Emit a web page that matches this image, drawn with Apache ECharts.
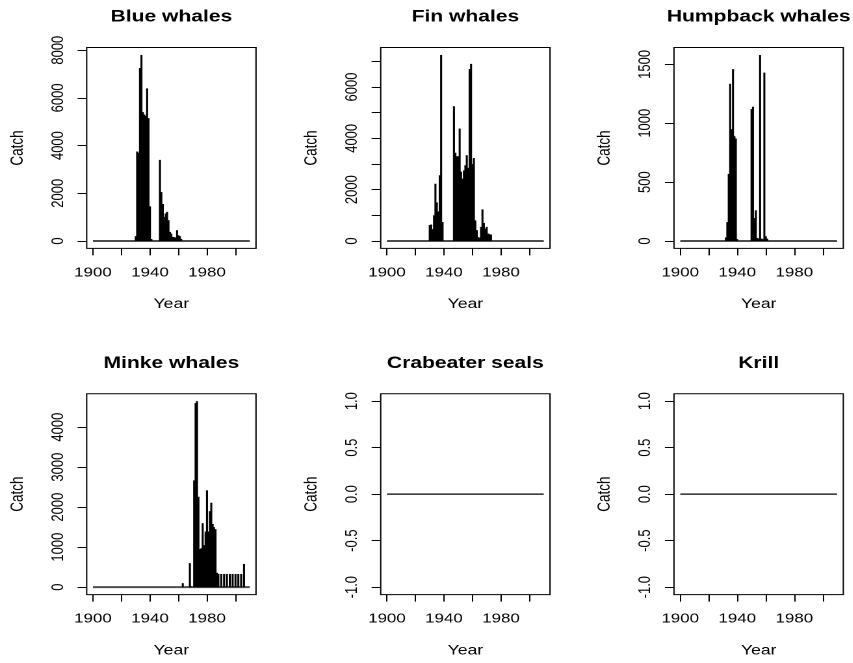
<!DOCTYPE html>
<html>
<head>
<meta charset="utf-8">
<script src="https://cdn.jsdelivr.net/npm/echarts@6/dist/echarts.min.js"></script>
<style>
    html, body { margin: 0; padding: 0; background: #fff; overflow: hidden; }
    /* the reference is stretched sideways, so the chart is drawn narrow and scaled */
    #chart { width: 656px; height: 663px; transform: scaleX(1.3); transform-origin: 0 0; }
</style>
</head>
<body>
<div id="chart"></div>
<script>
// ---- data ----
const blueYears = [1930, 1931, 1932, 1933, 1934, 1935, 1936, 1937, 1938, 1939, 1940, 1941,
    1942, 1943, 1944, 1945, 1946, 1947, 1948, 1949, 1950, 1951, 1952, 1953, 1954, 1955,
    1956, 1957, 1958, 1959, 1960, 1961, 1962];
const blueCatch = [200, 3750, 3700, 7250, 7800, 5400, 5300, 5250, 6400, 5150, 1450, 80,
    0, 0, 0, 0, 0, 3400, 2050, 1550, 1000, 1150, 1220, 870, 380, 310,
    170, 160, 140, 450, 240, 200, 80];

const finYears = [1930, 1931, 1932, 1933, 1934, 1935, 1936, 1937, 1938, 1939,
    1940, 1941, 1942, 1943, 1944, 1945, 1946,
    1947, 1948, 1949, 1950, 1951, 1952, 1953, 1954, 1955, 1956, 1957, 1958, 1959, 1960,
    1961, 1962, 1963, 1964, 1965, 1966, 1967, 1968, 1969, 1970, 1971, 1972, 1973];
const finCatch = [620, 640, 460, 1000, 2230, 1500, 1150, 2560, 7250, 740,
    0, 0, 0, 0, 0, 0, 0,
    5250, 3440, 3300, 3300, 4380, 2700, 2430, 2750, 2950, 3340, 2850, 6700, 6900, 3000,
    3230, 800, 420, 150, 130, 550, 1230, 700, 480, 550, 290, 260, 250];

const humpYears = [1932, 1933, 1934, 1935, 1936, 1937, 1938, 1939, 1940,
    1941, 1942, 1943, 1944, 1945, 1946, 1947, 1948, 1949,
    1950, 1951, 1952, 1953, 1954, 1955, 1956, 1957, 1958, 1959, 1960, 1961];
const humpCatch = [30, 160, 570, 1335, 950, 1460, 890, 870, 15,
    0, 0, 0, 0, 0, 0, 0, 0, 0,
    1120, 1140, 195, 260, 25, 20, 1580, 20, 15, 1430, 40, 20];

const minkeYears = [1963, 1964, 1965, 1966, 1967, 1968, 1969, 1970,
    1971, 1972, 1973, 1974, 1975, 1976, 1977, 1978, 1979, 1980, 1981, 1982, 1983,
    1984, 1985, 1986, 1987, 1988, 1989, 1990, 1991, 1992, 1993, 1994, 1995, 1996,
    1997, 1998, 1999, 2000, 2001, 2002, 2003, 2004, 2005, 2006];
const minkeCatch = [100, 0, 0, 0, 0, 600, 20, 0,
    2670, 4600, 4650, 2260, 950, 970, 1600, 1050, 1390, 2420, 1390, 1900, 2110,
    1580, 1500, 1450, 360, 330, 0, 330, 0, 330, 0, 330, 0, 330,
    0, 330, 0, 330, 0, 330, 0, 330, 0, 580];

// crabeater seals and krill: no catch over the whole period
const spanYears = [1900, 2010];
const zeroCatch = [0, 0];

const yearTicks = [1900, 1920, 1940, 1960, 1980, 2000];
const yearLabels = [1900, 1940, 1980];
const blueTicks = [0, 2000, 4000, 6000, 8000];
const finTicks = [0, 1000, 2000, 3000, 4000, 5000, 6000, 7000];
const finLabels = [0, 2000, 4000, 6000];
const humpTicks = [0, 500, 1000, 1500];
const minkeTicks = [0, 1000, 2000, 3000, 4000];
const zeroTicks = [-1, -0.5, 0, 0.5, 1];

// ---- layout (in picture pixels, x divided by K for the narrow chart) ----
const K = 1.3;
const FONT = 'Liberation Sans, Arial, sans-serif';
const BOX_W = 169.3, BOX_H = 200.9;

const panels = [
    {title: 'Blue whales', years: blueYears, catches: blueCatch, ticks: blueTicks, labels: blueTicks, left: 86.7, top: 47.5},
    {title: 'Fin whales', years: finYears, catches: finCatch, ticks: finTicks, labels: finLabels, left: 380.7, top: 47.5},
    {title: 'Humpback whales', years: humpYears, catches: humpCatch, ticks: humpTicks, labels: humpTicks, left: 674, top: 47.5},
    {title: 'Minke whales', years: minkeYears, catches: minkeCatch, ticks: minkeTicks, labels: minkeTicks, left: 86.7, top: 393.7},
    {title: 'Crabeater seals', years: null, catches: null, ticks: zeroTicks, labels: zeroTicks, left: 380.7, top: 393.7},
    {title: 'Krill', years: null, catches: null, ticks: zeroTicks, labels: zeroTicks, left: 674, top: 393.7}
];

const xMin = 1900 - 0.04 * 110;
const xMax = 2010 + 0.04 * 110;

const textStyle = {fontFamily: FONT, color: '#000'};

let grids = [], xAxes = [], yAxes = [], series = [], titles = [];

panels.forEach((p, i) => {
    let lo = p.catches ? 0 : -1;
    let hi = p.catches ? Math.max(...p.catches) : 1;
    let pad = 0.04 * (hi - lo);
    let fmt = p.catches ? (v => String(v)) : (v => v.toFixed(1));

    grids.push({
        left: p.left / K, top: p.top, width: BOX_W / K, height: BOX_H,
        show: true, borderColor: '#000', borderWidth: 1,
        containLabel: false, outerBoundsMode: 'none'
    });

    xAxes.push({
        gridIndex: i, type: 'value', min: xMin, max: xMax,
        axisLine: {show: false, onZero: false},
        axisTick: {show: true, length: 7, lineStyle: {color: '#000', width: 1}, customValues: yearTicks},
        axisLabel: Object.assign({customValues: yearLabels, formatter: v => String(v), margin: 18, fontSize: 13}, textStyle),
        splitLine: {show: false},
        name: 'Year', nameLocation: 'middle', nameGap: 49,
        nameTextStyle: Object.assign({fontSize: 13.5}, textStyle)
    });

    yAxes.push({
        gridIndex: i, type: 'value', min: lo - pad, max: hi + pad,
        axisLine: {show: false, onZero: false},
        axisTick: {show: true, length: 7, lineStyle: {color: '#000', width: 1}, customValues: p.ticks},
        axisLabel: Object.assign({customValues: p.labels, formatter: fmt, rotate: 90, margin: 15.5, fontSize: 13}, textStyle),
        splitLine: {show: false},
        name: 'Catch', nameLocation: 'middle', nameGap: 46, nameRotate: 90,
        nameTextStyle: Object.assign({fontSize: 13.5}, textStyle)
    });

    series.push({
        type: 'line', xAxisIndex: i, yAxisIndex: i, silent: true, z: 1,
        data: spanYears.map((y, j) => [y, zeroCatch[j]]),
        symbol: 'none',
        lineStyle: {color: p.catches ? '#4d4d4d' : '#000', width: p.catches ? 2 : 1.3}
    });

    if (p.catches) {
        series.push({
            type: 'bar', xAxisIndex: i, yAxisIndex: i, silent: true, z: 2,
            data: p.years.map((y, j) => [y, p.catches[j]]),
            barWidth: 2 / K,
            itemStyle: {color: '#000'}
        });
    }

    titles.push({
        text: p.title,
        left: (p.left + BOX_W / 2) / K,
        top: p.top < 100 ? 9 : 355.5,
        textAlign: 'center', padding: 0,
        textStyle: {fontFamily: FONT, fontSize: 16.2, fontWeight: 'bold', color: '#000'}
    });
});

let chart = echarts.init(document.getElementById('chart'), null, {devicePixelRatio: 2});
chart.setOption({
    animation: false,
    backgroundColor: '#fff',
    title: titles,
    grid: grids,
    xAxis: xAxes,
    yAxis: yAxes,
    series: series
});
</script>
</body>
</html>
